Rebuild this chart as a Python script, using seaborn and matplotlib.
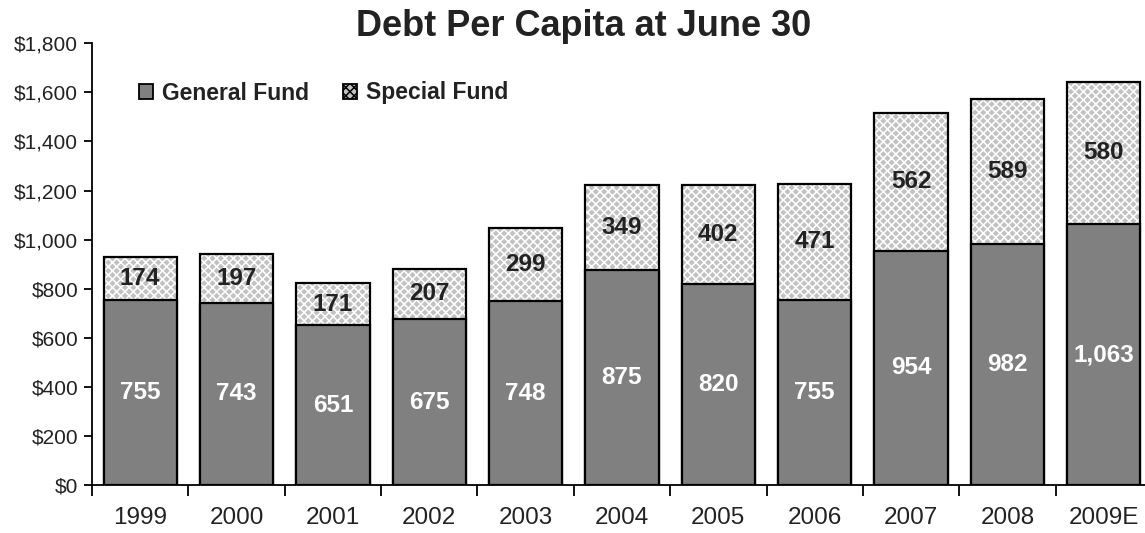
import matplotlib
matplotlib.use("Agg")
import matplotlib.pyplot as plt
import seaborn as sns
import pandas as pd
from matplotlib.patches import Patch
from matplotlib.ticker import FuncFormatter, MultipleLocator

years = ["1999", "2000", "2001", "2002", "2003", "2004", "2005", "2006", "2007", "2008", "2009E"]
general_fund = [755, 743, 651, 675, 748, 875, 820, 755, 954, 982, 1063]
special_fund = [174, 197, 171, 207, 299, 349, 402, 471, 562, 589, 580]

df = pd.DataFrame({"year": years, "general": general_fund, "special": special_fund})
df["total"] = df["general"] + df["special"]

sns.set_style("white")
plt.rcParams["font.family"] = ["Liberation Sans", "DejaVu Sans"]
plt.rcParams["hatch.linewidth"] = 1.1

fig = plt.figure(figsize=(11.45, 5.33), dpi=100)
ax = fig.add_axes([92 / 1145, 1 - 485 / 533, (1152 - 92) / 1145, (485 - 43.3) / 533])

bw = 0.76
gray_dark = "#808080"
hatch_face = "#c2c2c2"

# special fund layer (stacked on top): hatched fill first, outline afterwards
sns.barplot(data=df, x="year", y="total", color=hatch_face, width=bw,
            saturation=1, ax=ax, linewidth=0, edgecolor="white")
for p in ax.patches:
    p.set_hatch("xxxx")
    p.set_edgecolor("white")
    p.set_linewidth(0)
sns.barplot(data=df, x="year", y="total", fill=False, width=bw,
            ax=ax, linewidth=1.6, edgecolor="black")
# general fund layer
sns.barplot(data=df, x="year", y="general", color=gray_dark, width=bw,
            saturation=1, ax=ax, linewidth=1.6, edgecolor="black")

ax.set_xlim(-0.5, len(years) - 0.5)
ax.set_ylim(0, 1800)
ax.yaxis.set_major_locator(MultipleLocator(200))
ax.yaxis.set_major_formatter(FuncFormatter(lambda v, _: f"${v:,.0f}"))

# value labels
for i, (g, s) in enumerate(zip(general_fund, special_fund)):
    ax.text(i, g / 2, f"{g:,}", ha="center", va="center", color="white",
            fontsize=17.5, fontweight="bold")
    ax.text(i, g + s / 2, f"{s:,}", ha="center", va="center", color="#222222",
            fontsize=17.5, fontweight="bold")

# axes: only left and bottom spines, ticks between categories on x
for side in ["top", "right"]:
    ax.spines[side].set_visible(False)
for side in ["left", "bottom"]:
    ax.spines[side].set_color("black")
    ax.spines[side].set_linewidth(1.3)

ax.set_xticks(range(len(years)))
ax.set_xticklabels(years)
ax.tick_params(axis="x", which="major", length=0, pad=16, labelsize=17.5, labelcolor="#222222")
ax.set_xticks([i - 0.5 for i in range(len(years))], minor=True)
ax.tick_params(axis="x", which="minor", length=8, width=1.3, color="black", direction="out", bottom=True)
ax.tick_params(axis="y", length=6, width=1.3, color="black", direction="out", left=True,
               labelsize=15, labelcolor="#222222", pad=4)
ax.set_xlabel("")
ax.set_ylabel("")

handles = [Patch(facecolor=gray_dark, edgecolor="black", linewidth=1.3),
           Patch(facecolor=hatch_face, edgecolor="black", linewidth=1.3, hatch="xxxx")]
leg = fig.legend(handles, ["General Fund", "Special Fund"], loc="center left",
                 bbox_to_anchor=(130 / 1145, 1 - 93 / 533), ncol=2, frameon=False,
                 handlelength=0.6, handleheight=0.6, handletextpad=0.4,
                 columnspacing=1.5, borderaxespad=0,
                 prop={"size": 16.5, "weight": "bold"})
for t in leg.get_texts():
    t.set_color("#222222")

fig.text(584 / 1145, 1 - 26 / 533, "Debt Per Capita at June 30", ha="center", va="center",
         fontsize=26, fontweight="bold", color="#222222")

fig.savefig("out.png", dpi=100)
